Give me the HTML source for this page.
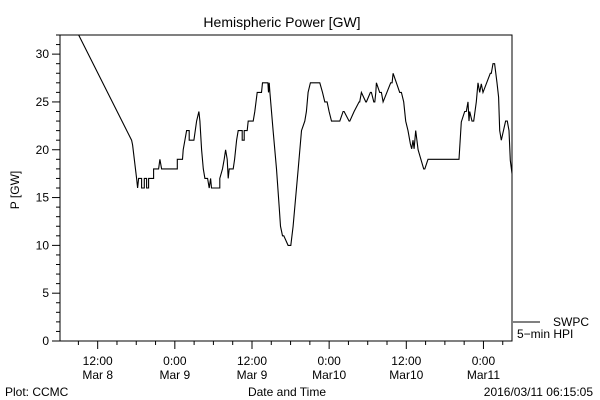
<!DOCTYPE html>
<html><head><meta charset="utf-8"><style>
body{margin:0;background:#fff}
svg{display:block;font-family:"Liberation Sans",sans-serif}
text{fill:#000;font-size:12px}
</style></head><body>
<svg id="chart" width="600" height="400" viewBox="0 0 600 400">
<text x="282" y="27" text-anchor="middle" font-size="14" style="font-size:14px">Hemispheric Power [GW]</text>
<text transform="translate(19,190) rotate(-90)" text-anchor="middle">P [GW]</text>
<g id="axes"></g>
<g id="series"></g>
<rect x="60" y="35" width="452" height="306" fill="none" stroke="#000" stroke-width="1"/>
<line x1="513" y1="322" x2="540" y2="322" stroke="#000"/>
<text x="553" y="326">SWPC</text>
<text x="517" y="338">5−min HPI</text>
<text x="287" y="396" text-anchor="middle">Date and Time</text>
<text x="5" y="396">Plot: CCMC</text>
<text x="593" y="396" text-anchor="end">2016/03/11 06:15:05</text>
</svg>
<script>
const hours=[8.9,17.28,17.43,18.06,18.21,18.37,18.83,18.83,19.25,19.25,19.61,19.61,19.92,19.92,20.7,20.7,21.47,21.68,21.94,24.38,24.38,25.2,25.3,25.57,25.83,26.24,26.24,26.97,27.38,27.74,27.9,28.16,28.42,28.67,29.09,29.35,29.56,29.71,31.0,31.0,31.42,31.68,31.89,32.15,32.3,32.46,33.08,33.29,33.6,33.86,34.48,34.48,34.79,34.79,35.25,35.41,36.19,36.44,36.81,37.48,37.64,38.47,38.57,38.67,38.78,39.29,39.81,40.23,40.43,40.74,40.95,41.62,42.04,42.4,42.66,43.18,43.7,44.21,44.47,44.73,45.09,46.54,46.96,47.32,47.68,47.99,48.36,49.55,49.66,50.17,50.33,51.11,51.21,51.88,52.66,52.76,53.02,53.7,53.8,54.42,54.58,54.94,55.1,55.25,55.35,55.87,56.13,56.39,57.58,57.79,57.94,58.46,58.98,59.24,59.6,59.91,60.27,60.64,60.84,61.05,61.21,61.47,61.83,62.71,62.87,63.38,68.2,68.56,69.08,69.34,69.6,69.75,69.86,70.22,70.48,70.89,71.15,71.41,71.67,71.93,73.07,73.22,73.48,73.74,74.1,74.36,74.52,74.78,75.45,75.71,75.97,76.18,76.44];
const power=[32.2,21,20.5,17,16,17,17,16,16,17,17,16,16,17,17,18,18,19,18,18,19,19,20,21,22,22,21,21,23,24,23,20,18,17,17,16,17,16,16,17,18,19,20,19,17,18,18,19,21,22,22,21,21,22,22,23,23,24,26,26,27,27,26,27,26,22,18,14,12,11,11,10,10,12,14,18,22,23,24,26,27,27,26,25,25,24,23,23,23,24,24,23,23,24,25,25,26,25,25,26,26,25,25,26,27,26,26,25,27,27,28,27,26,26,25,23,22,20.6,20.1,21,20.1,22,20,18,18,19,19,22.9,24,24,25,23,24,23,23,25,27,26,26.9,26,28,28,29,29,27,25.5,22,21,23,23,22,18.9,17.5,16];
const yTickValues=[0,5,10,15,20,25,30];
const xTickHours=[12,24,36,48,60,72];
const xTickLabels=[["12:00","Mar 8"],["0:00","Mar 9"],["12:00","Mar 9"],["0:00","Mar10"],["12:00","Mar10"],["0:00","Mar11"]];
const NS="http://www.w3.org/2000/svg";
const X0=60,X1=512,Y0=341,Y1=35,HMIN=6.14,HMAX=76.44,VMIN=0,VMAX=32;
function xs(h){return X0+(h-HMIN)/(HMAX-HMIN)*(X1-X0);}
function ys(v){return Y0-(v-VMIN)/(VMAX-VMIN)*(Y0-Y1);}
function mk(t,a){const e=document.createElementNS(NS,t);for(const k in a)e.setAttribute(k,a[k]);return e;}
const axes=document.getElementById('axes');
for(let v=0;v<=32;v++){
  const len=v%5===0?8:4;
  const t=mk('line',{x1:X0-len,x2:X0,y1:ys(v),y2:ys(v),stroke:'#000'});
  
  
  axes.appendChild(t);
}
yTickValues.forEach(v=>{
  const t=mk('text',{x:X0-11,y:ys(v)+4,'text-anchor':'end'});
  t.textContent=v;
  
  
  axes.appendChild(t);
});
for(let h=Math.ceil(HMIN/3)*3;h<=HMAX;h+=3){
  const len=h%12===0?8:4;
  const t=mk('line',{x1:xs(h),x2:xs(h),y1:Y0,y2:Y0+len,stroke:'#000'});
  
  
  axes.appendChild(t);
}
xTickHours.forEach((h,i)=>{
  const t=mk('text',{x:xs(h),y:365,'text-anchor':'middle'});
  t.textContent=xTickLabels[i][0];
  
  
  axes.appendChild(t);
  const d=mk('text',{x:xs(h),y:379,'text-anchor':'middle'});
  d.textContent=xTickLabels[i][1];
  
  
  axes.appendChild(d);
});
const clip=mk('clipPath',{id:'pc'});
clip.appendChild(mk('rect',{x:X0,y:Y1,width:X1-X0,height:Y0-Y1}));
document.getElementById('chart').appendChild(clip);
const pts=hours.map((h,i)=>xs(h).toFixed(1)+','+ys(power[i]).toFixed(1)).join(' ');
const line=mk('polyline',{points:pts,fill:'none',stroke:'#000','stroke-width':'1.1','clip-path':'url(#pc)'});


document.getElementById('series').appendChild(line);
</script>
</body></html>
